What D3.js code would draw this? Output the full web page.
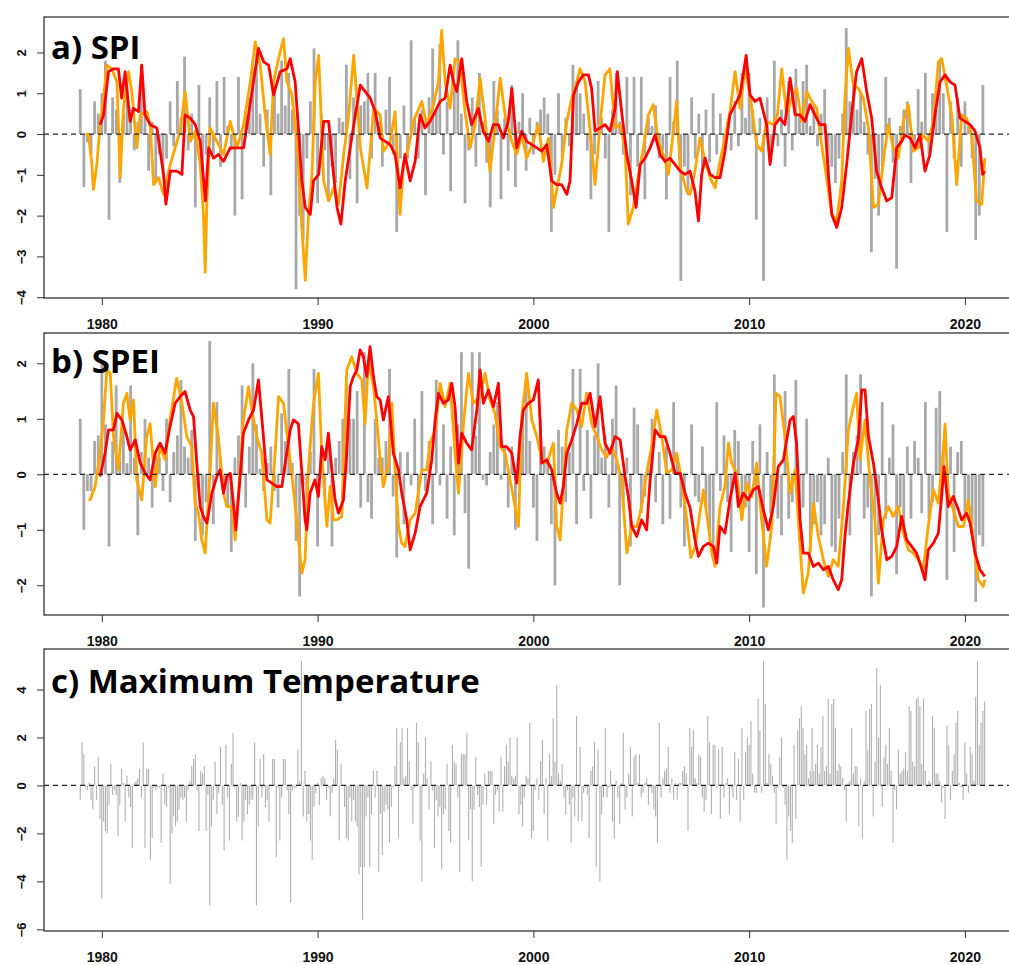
<!DOCTYPE html>
<html>
<head>
<meta charset="utf-8">
<script src="https://cdn.jsdelivr.net/npm/d3@7"></script>
<style>
  body { margin: 0; background: #fff; }
</style>
</head>
<body>
<div id="chart"></div>
<script>
const w = 1009;
const h = 965;
const startYear = 1979;

const titles = ['a) SPI', 'b) SPEI', 'c) Maximum Temperature'];
const yearTicks = [1980, 1990, 2000, 2010, 2020];
const spiTicks = [2, 1, 0, -1, -2, -3, -4];
const speiTicks = [2, 1, 0, -1, -2];
const tmaxTicks = [4, 2, 0, -2, -4, -6];

// SPI-1, one value every two months, one row per year (1979..2020)
const spi1 = [
  1.1, -1.3, -0.2, -0.5, 0.8, 0.5,
  1.0, 1.8, -2.1, 0.9, 0.6, -1.2,
  0.5, 1.2, 0.6, -0.4, 0.3, 1.7,
  0.6, -0.9, 0.3, -1.2, -0.5, -1.0,
  -0.6, 0.8, -0.3, 1.3, 0.4, 1.9,
  -0.4, 0.5, -1.8, 1.2, -1.2, -0.5,
  0.9, -0.5, 1.3, -0.8, 1.4, 0.2,
  -0.4, -2.0, 1.4, -1.6, 0.6, 0.9,
  1.6, 2.0, 0.5, -0.8, 0.6, -1.5,
  1.2, 0.5, 1.8, 0.7, 1.5, 0.6,
  -3.8, -2.0, -2.6, -0.6, 0.8, 2.1,
  -1.7, 0.5, -0.4, -1.6, -0.8, -1.2,
  0.4, 0.3, 1.7, -1.1, 0.9, -1.7,
  0.7, 0.8, 1.5, -0.6, 1.5, 0.3,
  -0.8, 0.6, 1.4, -0.5, -2.4, -0.6,
  0.7, -0.6, 2.3, 0.4, -0.6, 0.6,
  -1.5, 0.9, 2.1, 0.6, 2.2, -0.5,
  0.8, -1.4, 1.2, 2.3, 0.5, -1.7,
  -0.4, 0.9, -0.8, 1.5, 0.3, -0.7,
  -1.8, 1.3, 0.6, -1.6, 0.4, -0.9,
  1.2, -1.3, 0.3, 1.0, -0.9, 0.4,
  -0.5, 0.3, 0.6, 0.9, 0.5, -2.4,
  -1.0, 1.0, -0.6, 0.4, -0.3, 1.7,
  1.3, 1.0, 0.5, -0.4, -1.6, -0.5,
  1.3, 0.4, -0.6, -2.4, 0.6, 1.5,
  0.3, -0.5, 1.4, -1.5, 1.4, -0.8,
  1.4, -1.6, 0.4, 0.2, 0.7, -0.6,
  -0.4, -1.6, 1.4, 0.3, 1.8, -3.6,
  -0.8, -1.5, 0.9, -0.6, 0.5, -0.9,
  0.6, -0.7, 1.0, -0.5, 0.5, -0.4,
  0.3, -0.4, 0.8, -0.3, 1.5, 0.4,
  1.5, 0.6, -2.1, 0.4, -3.6, 0.9,
  -0.5, 1.8, -0.3, 0.6, -0.8, 1.3,
  -0.4, 1.6, 0.5, 1.3, 1.7, 0.2,
  0.7, -0.3, 0.5, 1.1, -1.3, -0.8,
  -1.2, -0.6, 0.5, 2.6, 0.8, 1.2,
  0.6, 1.0, 0.3, -0.5, -2.9, -1.1,
  -2.0, -0.8, 1.4, 0.4, -0.7, -3.3,
  0.2, 0.6, 0.8, -1.2, -0.4, 1.1,
  0.3, 1.5, -0.5, 1.0, 0.6, 1.8,
  1.0, -2.4, 0.8, -0.6, 0.9, -0.8,
  0.8, 0.2, -0.6, -2.6, -2.0, 1.2
];

// SPEI-1, one value every two months
const spei1 = [
  1.0, -1.0, -0.3, -0.3, 0.6, 0.7,
  2.0, 0.9, -1.3, 0.6, 1.6, 0.3,
  0.9, 0.2, 1.6, 0.3, -1.1, 0.4,
  1.0, 0.3, -0.6, 0.4, 0.3, -0.3,
  1.0, -0.5, 0.4, 0.7, 1.7, 0.5,
  0.3, 0.8, -1.2, -0.3, -1.1, -0.5,
  2.4, -0.9, 1.3, 0.3, -0.2, -0.6,
  -1.4, 0.3, 0.7, 1.6, -0.6, 0.5,
  2.0, 0.9, 0.1, -0.3, 0.2, 0.5,
  -0.3, -0.6, 1.1, 0.6, 1.9, 0.2,
  -1.2, -2.2, -0.2, -0.6, 0.4, 1.9,
  -1.3, 0.4, -0.4, 0.5, -1.3, 0.3,
  0.6, 1.0, 1.6, 1.0, 1.0, 1.5,
  -0.6, 2.2, -0.5, -0.8, 1.0, 0.3,
  0.3, 0.6, 1.9, -0.4, -1.5, 0.4,
  -0.9, 0.4, -0.2, 1.0, -0.6, 1.5,
  -0.3, 0.6, -0.9, 1.7, -0.2, 0.9,
  -0.8, 0.5, -1.1, 0.9, 2.2, -0.7,
  -1.7, 2.2, 0.7, 2.2, -0.1, -0.2,
  0.4, 0.9, 1.3, -0.1, 0.5, -0.6,
  0.5, -1.0, 0.3, 1.0, 1.7, 0.6,
  -0.6, -1.2, 1.0, 0.5, 0.3, -0.9,
  -2.0, 0.8, 0.5, -0.5, 0.4, 1.9,
  -0.9, 1.9, -0.3, 0.8, -0.8, 0.7,
  2.0, 0.3, 0.7, -0.6, 1.0, 1.6,
  -2.0, -0.6, 0.3, -1.3, 1.2, 0.9,
  -0.7, -0.4, 0.1, 1.0, -0.5, 0.4,
  -0.9, 0.5, -0.8, 1.3, 0.3, -0.6,
  -1.3, 0.0, 0.9, -0.4, -0.5, 0.5,
  -0.6, -1.1, -1.4, 1.3, -0.3, 0.7,
  -0.5, -1.4, 0.8, 0.6, -0.8, -0.6,
  -1.4, 0.6, -1.8, 0.9, -2.4, 0.4,
  -0.7, 1.8, -0.8, -1.1, 1.5, -0.8,
  -0.5, 1.7, -1.2, -0.6, 1.0, -1.4,
  -0.9, -0.5, -1.1, -0.9, 0.3, -1.3,
  -1.4, -0.8, 0.4, 1.8, -1.1, 0.4,
  0.7, 1.8, -0.8, -0.6, -2.2, -0.8,
  -1.1, 1.3, -0.8, 0.3, 0.9, -1.8,
  -0.6, -0.9, 0.5, -0.8, 0.6, 0.3,
  -0.7, 1.3, -0.8, -0.5, 1.2, 1.5,
  0.5, -1.9, 0.5, -1.4, 0.4, 0.6,
  -0.8, -0.6, -0.9, -2.3, -1.1, -1.3
];

// maximum temperature anomaly, monthly, one row per year
const tmax = [
  -0.6, 1.8, 1.3, -0.1, -0.2, 0.1, -0.6, -1.0, 0.8, -0.6, 1.2, -1.4,
  -4.7, -1.5, -1.9, -2.0, -0.8, 0.9, -0.4, -0.2, -0.4, -2.1, -0.8, 0.7,
  0.1, -1.5, 0.4, -0.5, -0.9, -2.6, 0.1, 0.2, 0.3, 0.7, -0.5, 1.8,
  -2.6, 0.7, 0.7, -3.1, -2.2, -0.1, -0.2, -0.1, -0.1, -2.4, 0.5, -0.8,
  -0.9, -0.1, -4.1, -2.0, -1.3, -1.7, -1.5, -1.0, -0.5, -0.6, -0.5, -1.5,
  -0.2, 0.2, 0.8, 1.1, 1.3, -0.2, -1.9, 0.6, 0.5, 0.8, -1.9, -0.4,
  -5.0, -1.7, -0.6, 1.0, -1.2, -0.3, 1.6, -0.8, -2.7, 1.7, -0.5, -2.3,
  0.9, 2.2, -0.1, -1.5, -1.3, 0.1, -2.3, -1.5, -0.6, -1.2, -0.8, -0.6,
  -0.6, 1.8, -5.0, -1.7, 1.1, -0.5, 1.3, -0.9, -0.6, -1.5, 0.0, 1.1,
  1.1, -3.0, -0.1, -2.3, -0.5, 1.1, 1.1, -0.2, -1.2, -4.9, -0.2, -0.1,
  -0.1, 1.5, 0.2, 5.2, -1.3, 0.6, -1.5, -1.2, -2.3, -3.1, -0.9, -0.3,
  0.1, -0.8, 0.3, 0.4, 0.3, -0.6, -0.1, -1.3, -0.3, 0.3, 1.9, 1.5,
  -2.3, 0.9, 0.0, -0.9, -2.2, -2.3, -0.5, -1.5, -0.6, -1.5, -1.7, -3.7,
  -3.4, -5.6, -3.4, -1.3, -0.5, -3.4, -1.2, 0.6, -0.5, 0.6, -3.6, -1.2,
  -2.9, -1.1, -0.8, -1.0, -2.4, -0.9, -0.1, 0.8, 2.4, -2.2, 1.8, 2.4,
  0.3, 0.4, 2.4, 1.0, -0.2, -1.6, -0.1, 2.6, 1.8, -2.3, -4.0, 0.5,
  2.0, 0.3, -1.0, 1.0, -0.2, -2.6, -0.6, -1.3, -0.9, -3.5, -1.2, -1.0,
  0.9, -1.9, -2.4, 1.7, 1.0, 0.9, -0.5, -3.6, 1.3, 1.3, 1.3, 2.2,
  -2.3, -1.0, -4.0, -1.0, 1.2, -0.4, -0.9, -3.4, -0.8, 0.5, -0.8, 0.6,
  0.6, 0.6, -1.6, -0.4, -0.2, -1.1, 1.2, -1.1, 0.8, 1.7, 1.0, 2.0,
  0.4, 0.3, 0.4, 2.0, -1.2, -0.8, -1.7, -0.5, 0.4, 0.3, 2.6, -2.2,
  -1.9, -0.2, 0.3, -0.6, 1.0, 1.9, -1.2, 0.3, -2.3, 1.3, 0.4, 2.8,
  1.0, 4.2, 0.5, 0.2, 0.9, -0.5, -1.2, -0.2, -0.8, -2.4, -0.5, -1.3,
  2.9, -1.5, 1.6, -1.5, -0.3, -0.1, -0.4, -2.2, 0.6, 0.8, 1.8, -3.4,
  1.5, -4.0, -1.2, -0.5, 2.4, -0.5, -0.1, 0.6, -1.5, -2.2, 0.2, -0.5,
  -1.6, 0.1, 2.2, -1.0, -0.5, 0.5, 1.6, -1.3, 1.2, 1.3, 0.1, 1.3,
  -0.5, -0.3, 0.1, 0.3, -0.8, -0.1, -0.3, -1.0, -1.3, -2.4, 2.6, -0.5,
  0.3, 0.6, 0.7, 1.6, -0.3, 0.3, -0.6, 0.1, -0.6, 0.1, 0.1, 0.6,
  0.8, 0.5, -1.9, 2.4, 1.6, 2.3, 0.3, 0.1, 1.3, 1.2, -0.5, -1.1,
  -0.6, 2.9, 1.8, -1.2, 1.7, 1.7, -0.1, 1.5, -1.4, 1.6, -0.5, 0.1,
  0.3, -1.2, -0.1, -0.5, 1.4, -0.6, 1.1, -1.5, 2.4, -0.6, 1.4, 2.0,
  1.7, 2.7, 0.5, -0.3, -0.3, 3.6, 2.3, -0.3, 5.2, 3.4, 0.1, 1.3,
  0.9, 0.4, -0.3, -1.6, -0.1, 1.2, 2.0, -0.1, -0.8, -3.1, -1.3, -1.9,
  -2.4, 1.7, -1.4, 2.3, 2.8, 3.3, 2.4, 1.3, 1.7, 0.3, 0.6, 2.4,
  0.6, 0.9, 1.7, 0.5, 1.6, 2.9, 0.6, 0.8, 3.6, 0.5, 3.4, 3.6,
  2.4, 0.6, 0.9, 0.8, 0.3, -0.2, -1.5, 0.1, 0.2, 2.4, 0.5, 0.8,
  0.8, -1.7, 0.3, -2.2, 0.2, 3.1, 1.5, 3.2, 3.4, -1.3, 1.0, 4.9,
  2.0, 4.2, -0.9, 1.2, 1.7, 0.9, 2.4, 0.6, -2.4, -0.2, -1.0, 1.5,
  0.5, 0.6, 0.7, 1.4, 0.6, 3.3, 3.1, 1.0, 0.8, 3.6, 3.7, 3.3,
  0.9, 3.6, 0.6, -0.1, 0.2, 0.1, 2.9, 2.4, 0.5, 0.5, 0.2, -0.7,
  -0.1, -1.4, 2.5, 1.7, -0.6, 0.6, 1.3, 2.6, 3.1, 0.1, -0.1, -0.6,
  1.8, 0.5, -0.3, 1.6, 1.3, 0.2, 3.7, 5.2, 1.7, 2.6, 3.1, 3.5
];

// smoothed indices as [year, value]
const spi3 = [
  [1979.25,0.0],[1979.38,0.0],[1979.54,-0.75],[1979.61,-1.36],[1979.77,-0.75],[1979.92,0.23],
  [1980.08,0.88],[1980.23,1.69],[1980.46,1.6],[1980.7,1.28],[1980.85,-1.07],[1981.0,0.63],
  [1981.24,1.53],[1981.39,1.04],[1981.62,-0.34],[1981.78,0.47],[1982.09,0.55],[1982.24,0.23],
  [1982.4,-1.24],[1982.63,-1.07],[1982.86,-1.48],[1983.17,-0.75],[1983.63,0.07],[1983.86,1.04],
  [1984.1,-0.18],[1984.33,0.07],[1984.56,-0.75],[1984.71,-1.97],[1984.79,-3.39],[1984.87,-1.64],
  [1985.02,0.15],[1985.33,-0.18],[1985.64,-0.5],[1985.95,0.31],[1986.26,-0.34],[1986.57,0.23],
  [1986.88,1.28],[1987.11,2.26],[1987.34,1.69],[1987.57,0.47],[1987.8,-0.5],[1987.96,1.28],
  [1988.19,1.85],[1988.42,2.34],[1988.58,1.28],[1988.81,0.96],[1989.04,-0.18],[1989.27,-2.29],
  [1989.43,-3.59],[1989.58,-1.97],[1989.74,-0.99],[1989.89,1.28],[1990.05,1.93],[1990.28,-1.15],
  [1990.51,-1.64],[1990.74,-1.32],[1990.97,-1.72],[1991.21,-0.5],[1991.44,0.47],[1991.67,1.93],
  [1991.82,0.88],[1991.98,-0.34],[1992.29,-1.32],[1992.6,0.63],[1992.9,0.47],[1993.05,-0.42],
  [1993.36,-0.18],[1993.59,0.55],[1993.75,-1.24],[1993.82,-1.97],[1993.98,-0.75],[1994.21,-0.34],
  [1994.44,0.31],[1994.83,0.8],[1995.06,0.23],[1995.37,0.72],[1995.6,1.28],[1995.75,2.54],
  [1995.91,1.28],[1996.14,0.63],[1996.37,1.85],[1996.6,1.77],[1996.83,0.55],[1997.07,-0.34],
  [1997.3,0.23],[1997.53,1.37],[1997.76,0.39],[1997.99,-0.91],[1998.22,0.15],[1998.46,1.37],
  [1998.69,0.47],[1999.0,-0.18],[1999.23,-0.5],[1999.46,-0.02],[1999.69,-0.59],[2000.0,-0.18],
  [2000.23,0.23],[2000.46,-0.67],[2000.7,-0.1],[2000.93,-1.8],[2001.16,-1.15],[2001.31,-0.75],
  [2001.55,0.31],[2001.78,0.88],[2002.01,1.28],[2002.16,1.6],[2002.4,1.28],[2002.63,0.07],
  [2002.86,-1.24],[2003.09,0.23],[2003.32,1.45],[2003.55,1.6],[2003.79,0.15],[2004.02,0.23],
  [2004.25,-0.34],[2004.4,-2.21],[2004.63,-1.8],[2004.87,-0.99],[2005.1,-0.34],[2005.33,0.47],
  [2005.56,0.72],[2005.79,-0.18],[2006.02,-0.5],[2006.26,-0.99],[2006.49,0.07],[2006.64,0.8],
  [2006.8,-0.83],[2007.11,-1.4],[2007.26,-1.48],[2007.49,-0.91],[2007.72,-0.1],[2007.96,-0.67],
  [2008.19,-1.07],[2008.42,-1.32],[2008.65,-0.67],[2008.88,-0.1],[2009.11,0.55],[2009.35,1.53],
  [2009.58,0.63],[2009.81,1.6],[2010.04,0.96],[2010.35,-0.26],[2010.58,-0.42],[2010.81,0.31],
  [2011.12,0.23],[2011.31,0.47],[2011.51,1.6],[2011.74,0.47],[2011.97,0.88],[2012.2,1.12],
  [2012.44,0.31],[2012.67,1.04],[2012.9,0.8],[2013.13,0.63],[2013.36,-0.26],[2013.59,-1.07],
  [2013.83,-1.97],[2014.06,-2.13],[2014.29,-1.15],[2014.44,0.88],[2014.6,2.1],[2014.83,1.2],
  [2015.06,1.12],[2015.29,0.88],[2015.53,0.15],[2015.76,-1.8],[2015.99,-1.72],[2016.22,-0.67],
  [2016.45,0.23],[2016.68,-0.34],[2016.91,-0.59],[2017.15,0.31],[2017.38,0.72],[2017.61,-0.42],
  [2017.84,-0.34],[2018.07,-0.02],[2018.3,-0.18],[2018.54,0.31],[2018.77,1.77],[2018.92,1.85],
  [2019.15,1.2],[2019.39,0.47],[2019.62,-1.24],[2019.85,0.47],[2020.08,0.39],[2020.31,-0.02],
  [2020.54,-1.64],[2020.78,-1.72],[2020.92,-0.59]
];

const spi12 = [
  [1979.92,0.23],[1980.08,0.47],[1980.31,1.53],[1980.54,1.6],[1980.77,1.6],[1980.92,0.88],
  [1981.08,1.53],[1981.31,0.31],[1981.47,0.63],[1981.7,0.55],[1981.85,1.69],[1982.0,0.47],
  [1982.24,0.23],[1982.55,0.15],[1982.86,-0.99],[1982.97,-1.72],[1983.17,-0.91],[1983.48,-0.91],
  [1983.71,-0.99],[1983.86,0.47],[1984.1,0.39],[1984.33,0.23],[1984.56,-0.18],[1984.8,-1.64],
  [1984.95,-0.34],[1985.18,-0.59],[1985.41,-0.5],[1985.64,-0.67],[1985.95,-0.34],[1986.26,-0.34],
  [1986.57,-0.34],[1986.8,0.47],[1987.03,1.28],[1987.26,2.1],[1987.5,1.77],[1987.73,1.69],
  [1987.96,0.96],[1988.27,1.53],[1988.58,1.6],[1988.73,1.85],[1988.96,1.28],[1989.12,0.07],
  [1989.27,-1.15],[1989.43,-1.8],[1989.66,-1.97],[1989.81,-1.15],[1990.05,-0.99],[1990.28,0.31],
  [1990.51,0.31],[1990.74,-0.99],[1990.9,-1.8],[1991.08,-2.21],[1991.28,-1.15],[1991.51,-0.34],
  [1991.75,0.47],[1991.98,1.2],[1992.21,1.04],[1992.44,0.88],[1992.67,0.55],[1992.9,-0.1],
  [1993.13,-0.18],[1993.36,-0.26],[1993.59,-0.5],[1993.82,-1.32],[1994.05,-0.5],[1994.29,-1.15],
  [1994.52,-0.67],[1994.75,0.47],[1994.98,0.15],[1995.21,0.31],[1995.45,0.55],[1995.68,0.8],
  [1995.91,0.88],[1996.14,1.69],[1996.3,1.28],[1996.45,1.04],[1996.68,1.85],[1996.91,0.8],
  [1997.14,0.23],[1997.45,0.63],[1997.68,0.07],[1997.92,-0.18],[1998.15,0.23],[1998.38,0.23],
  [1998.61,-0.1],[1998.84,0.31],[1999.0,1.12],[1999.23,-0.34],[1999.46,0.07],[1999.69,-0.18],
  [1999.93,-0.26],[2000.16,-0.34],[2000.39,-0.42],[2000.62,-0.26],[2000.85,-1.15],[2001.08,-1.24],
  [2001.31,-1.24],[2001.55,-1.48],[2001.7,-1.15],[2001.86,0.96],[2002.09,1.28],[2002.32,1.45],
  [2002.55,1.45],[2002.7,1.12],[2002.86,0.07],[2003.09,0.15],[2003.32,0.23],[2003.55,0.07],
  [2003.79,0.63],[2003.89,1.53],[2004.09,0.55],[2004.33,-0.5],[2004.56,-1.15],[2004.76,-1.8],
  [2004.95,-0.75],[2005.18,-0.59],[2005.41,-0.34],[2005.64,-0.02],[2005.87,-0.5],[2006.1,-0.67],
  [2006.33,-0.59],[2006.57,-0.75],[2006.8,-0.91],[2007.03,-0.99],[2007.26,-0.91],[2007.49,-1.4],
  [2007.65,-2.13],[2007.8,-0.99],[2007.96,-0.59],[2008.19,-0.99],[2008.42,-1.07],[2008.65,-1.07],
  [2008.88,-0.42],[2009.11,0.47],[2009.35,0.72],[2009.58,0.96],[2009.86,1.93],[2010.04,0.96],
  [2010.27,0.8],[2010.5,0.88],[2010.81,0.23],[2010.97,-0.75],[2011.2,0.23],[2011.43,0.39],
  [2011.66,0.23],[2011.9,1.37],[2012.13,0.47],[2012.36,0.47],[2012.59,0.31],[2012.82,0.72],
  [2013.05,0.47],[2013.28,0.23],[2013.52,0.23],[2013.67,-0.99],[2013.83,-1.97],[2014.06,-2.29],
  [2014.29,-1.8],[2014.52,-0.75],[2014.75,0.47],[2014.98,1.53],[2015.22,1.85],[2015.45,1.04],
  [2015.68,0.39],[2015.91,-0.91],[2016.14,-1.32],[2016.38,-1.64],[2016.61,-1.56],[2016.84,-0.34],
  [2017.07,-0.18],[2017.22,-0.02],[2017.46,-0.1],[2017.69,-0.34],[2017.92,-0.02],[2018.15,-0.91],
  [2018.38,-0.5],[2018.61,0.47],[2018.85,1.28],[2019.08,1.45],[2019.31,1.28],[2019.54,1.2],
  [2019.77,0.39],[2020.0,0.31],[2020.24,0.23],[2020.47,0.07],[2020.7,-0.34],[2020.82,-0.99],
  [2020.92,-0.91]
];

const spei3 = [
  [1979.38,-0.46],[1979.46,-0.46],[1979.69,-0.22],[1979.92,0.38],[1980.08,0.98],[1980.23,1.88],
  [1980.39,1.82],[1980.54,0.68],[1980.77,0.08],[1981.0,1.28],[1981.16,1.46],[1981.31,0.98],
  [1981.47,1.34],[1981.62,-0.1],[1981.85,-0.46],[1982.08,0.68],[1982.24,0.91],[1982.47,-0.22],
  [1982.7,0.5],[1982.93,0.26],[1983.16,0.98],[1983.47,1.73],[1983.71,1.28],[1983.94,0.68],
  [1984.17,0.5],[1984.32,-0.52],[1984.48,-0.7],[1984.63,-1.18],[1984.79,-1.42],[1985.02,0.08],
  [1985.17,1.28],[1985.4,0.68],[1985.64,-0.34],[1985.79,-0.58],[1986.02,-0.58],[1986.18,-1.18],
  [1986.41,0.08],[1986.56,0.98],[1986.8,1.58],[1986.95,1.16],[1987.18,0.68],[1987.41,0.38],
  [1987.65,-0.82],[1987.8,-0.88],[1988.03,0.38],[1988.19,1.4],[1988.42,1.28],[1988.65,0.5],
  [1988.8,0.02],[1989.03,-0.82],[1989.27,-1.78],[1989.42,-1.54],[1989.57,0.08],[1989.81,1.28],
  [1990.04,1.82],[1990.19,0.38],[1990.43,-0.94],[1990.58,-0.22],[1990.74,-0.82],[1990.89,-0.82],
  [1991.12,-0.76],[1991.35,1.88],[1991.58,2.12],[1991.82,1.82],[1992.05,1.7],[1992.2,0.91],
  [1992.36,2.06],[1992.59,1.58],[1992.74,0.98],[1992.9,0.26],[1993.05,-0.22],[1993.28,0.2],
  [1993.44,1.28],[1993.59,0.08],[1993.75,-0.94],[1993.9,-1.24],[1994.05,-1.3],[1994.29,-0.82],
  [1994.52,-0.7],[1994.83,0.08],[1995.06,0.08],[1995.21,0.56],[1995.45,0.8],[1995.68,1.64],
  [1995.91,1.22],[1996.14,1.64],[1996.37,0.38],[1996.53,-0.34],[1996.76,0.91],[1996.99,1.82],
  [1997.22,1.28],[1997.53,1.4],[1997.76,1.82],[1997.99,1.34],[1998.22,1.1],[1998.46,0.5],
  [1998.69,0.38],[1998.92,-0.1],[1999.15,-0.58],[1999.31,-0.94],[1999.46,1.04],[1999.69,1.82],
  [1999.93,0.98],[2000.16,0.68],[2000.39,0.26],[2000.62,0.2],[2000.93,0.56],[2001.08,-0.94],
  [2001.24,-1.18],[2001.39,-0.22],[2001.55,0.8],[2001.78,1.28],[2002.01,1.16],[2002.24,0.86],
  [2002.47,1.46],[2002.7,0.91],[2002.94,0.68],[2003.17,0.44],[2003.4,0.31],[2003.63,0.5],
  [2003.86,0.26],[2004.09,-0.1],[2004.33,-1.42],[2004.56,-0.94],[2004.79,-0.94],[2005.02,-0.58],
  [2005.25,0.02],[2005.48,0.5],[2005.72,1.16],[2005.95,0.68],[2006.18,0.02],[2006.41,0.08],
  [2006.64,0.38],[2006.87,-0.1],[2007.11,-0.82],[2007.3,-1.5],[2007.5,-1.3],[2007.65,-0.88],
  [2007.88,-0.28],[2008.11,-0.94],[2008.27,-1.42],[2008.42,-1.66],[2008.65,-0.58],[2008.88,-0.22],
  [2009.04,0.56],[2009.19,0.2],[2009.42,0.02],[2009.66,-0.82],[2009.89,-0.16],[2010.12,-0.4],
  [2010.35,0.2],[2010.58,-0.82],[2010.81,-1.66],[2011.05,-0.94],[2011.25,1.46],[2011.43,1.4],
  [2011.66,0.68],[2011.9,-0.34],[2012.13,0.08],[2012.28,-0.82],[2012.51,-2.14],[2012.74,-1.78],
  [2012.98,-0.52],[2013.21,-1.12],[2013.44,-1.54],[2013.67,-1.84],[2013.9,-1.54],[2014.13,-1.66],
  [2014.37,-0.58],[2014.6,0.8],[2014.83,1.22],[2014.98,1.46],[2015.14,0.26],[2015.37,0.98],
  [2015.6,-0.1],[2015.83,-0.82],[2015.99,-1.96],[2016.22,-0.82],[2016.45,-0.58],[2016.68,-0.76],
  [2016.91,-0.58],[2017.15,-1.06],[2017.38,-1.36],[2017.61,-1.42],[2017.84,-1.54],[2018.07,-1.72],
  [2018.3,-0.94],[2018.54,-0.28],[2018.77,-0.52],[2019.0,0.44],[2019.08,0.91],[2019.23,-0.34],
  [2019.46,-0.64],[2019.7,-0.94],[2019.93,-0.94],[2020.16,-0.46],[2020.39,-1.18],[2020.62,-1.9],
  [2020.85,-2.02],[2020.92,-1.9]
];

const spei12 = [
  [1979.92,-0.04],[1980.15,0.38],[1980.31,0.8],[1980.54,0.8],[1980.7,1.1],[1980.93,0.98],
  [1981.16,0.68],[1981.31,0.44],[1981.55,0.62],[1981.78,0.2],[1982.01,0.02],[1982.24,-0.1],
  [1982.47,0.38],[1982.7,0.56],[1982.93,0.38],[1983.16,0.86],[1983.4,1.28],[1983.63,1.4],
  [1983.86,1.49],[1984.09,1.16],[1984.25,1.04],[1984.4,0.2],[1984.56,-0.58],[1984.71,-0.76],
  [1984.87,-0.88],[1985.1,-0.34],[1985.33,-0.04],[1985.48,0.08],[1985.64,-0.34],[1985.79,-0.04],
  [1985.95,0.02],[1986.1,-0.52],[1986.21,-1.0],[1986.41,-0.04],[1986.56,0.74],[1986.8,0.98],
  [1987.03,1.16],[1987.26,1.7],[1987.49,0.68],[1987.65,-0.1],[1987.88,-0.16],[1988.11,-0.22],
  [1988.34,-0.22],[1988.57,0.38],[1988.73,0.8],[1988.88,0.98],[1989.11,0.91],[1989.27,0.02],
  [1989.42,-0.82],[1989.5,-1.0],[1989.65,-0.34],[1989.88,-0.1],[1990.04,-0.4],[1990.19,0.5],
  [1990.35,0.26],[1990.5,0.74],[1990.66,0.08],[1990.81,-0.46],[1990.97,-0.7],[1991.2,-0.46],
  [1991.35,0.38],[1991.51,1.58],[1991.66,1.76],[1991.82,1.88],[1991.97,2.24],[1992.12,2.12],
  [1992.28,1.76],[1992.43,2.3],[1992.59,1.76],[1992.74,1.4],[1992.9,1.34],[1993.05,0.98],
  [1993.28,1.4],[1993.51,0.38],[1993.75,0.08],[1993.9,-0.34],[1994.13,-0.82],[1994.29,-1.36],
  [1994.52,-1.06],[1994.75,-0.58],[1995.06,-0.34],[1995.29,0.26],[1995.45,0.98],[1995.6,1.46],
  [1995.83,1.28],[1996.06,1.34],[1996.22,1.64],[1996.37,1.22],[1996.53,0.2],[1996.68,0.74],
  [1996.91,0.56],[1997.14,0.44],[1997.38,1.16],[1997.53,1.88],[1997.68,1.28],[1997.92,1.52],
  [1998.15,1.22],[1998.38,1.64],[1998.53,0.5],[1998.76,0.5],[1999.0,0.38],[1999.23,-0.16],
  [1999.38,0.68],[1999.54,1.16],[1999.77,1.28],[2000.0,1.34],[2000.23,1.7],[2000.39,0.2],
  [2000.62,0.26],[2000.85,0.08],[2001.08,-0.34],[2001.24,-0.52],[2001.39,-0.22],[2001.55,0.38],
  [2001.78,0.62],[2002.01,0.91],[2002.24,1.28],[2002.47,1.28],[2002.63,1.46],[2002.86,0.86],
  [2003.09,1.4],[2003.32,0.56],[2003.55,0.38],[2003.79,0.68],[2004.02,0.62],[2004.25,-0.04],
  [2004.4,-0.4],[2004.56,-0.94],[2004.79,-1.12],[2005.02,-0.82],[2005.25,-1.0],[2005.41,-0.1],
  [2005.64,0.8],[2005.87,0.68],[2006.1,0.68],[2006.33,0.38],[2006.57,0.02],[2006.8,0.02],
  [2007.03,-0.34],[2007.26,-0.6],[2007.49,-1.18],[2007.65,-1.48],[2007.88,-1.3],[2008.11,-1.24],
  [2008.34,-1.3],[2008.5,-1.6],[2008.65,-0.94],[2008.88,-1.06],[2009.11,-0.46],[2009.35,0.02],
  [2009.5,-0.58],[2009.73,-0.34],[2009.96,-0.46],[2010.2,-0.28],[2010.43,-0.22],[2010.66,-0.64],
  [2010.89,-1.0],[2011.12,-0.58],[2011.35,0.14],[2011.59,0.26],[2011.74,0.62],[2011.9,0.98],
  [2012.05,1.04],[2012.2,0.56],[2012.36,-0.82],[2012.51,-1.42],[2012.74,-1.42],[2012.98,-1.66],
  [2013.21,-1.6],[2013.44,-1.72],[2013.67,-1.66],[2013.9,-1.9],[2014.13,-2.08],[2014.29,-1.9],
  [2014.44,-1.12],[2014.6,-0.52],[2014.83,0.2],[2015.06,0.62],[2015.22,1.52],[2015.37,1.52],
  [2015.53,0.68],[2015.76,0.2],[2015.99,-0.46],[2016.14,-1.0],[2016.38,-1.54],[2016.61,-1.48],
  [2016.84,-1.3],[2017.07,-0.76],[2017.3,-1.18],[2017.53,-1.3],[2017.76,-1.42],[2017.92,-1.6],
  [2018.15,-1.9],[2018.3,-1.36],[2018.54,-1.24],[2018.77,-1.06],[2018.92,-0.4],[2019.03,0.14],
  [2019.23,-0.58],[2019.46,-0.4],[2019.7,-0.64],[2019.85,-0.82],[2020.08,-0.7],[2020.24,-0.88],
  [2020.47,-1.42],[2020.7,-1.72],[2020.92,-1.84]
];

const svg = d3.select('#chart')
    .append('svg')
    .attr('width', w)
    .attr('height', h)
    .style('background-color', '#fff');

const x = d3.scaleLinear().domain([1977.32, 2022.6]).range([44, 1021]);

const panels = [
    {title: titles[0], top: 17, bottom: 298, domain: [-4.02, 2.87], ticks: spiTicks,
     bars: spi1, perYear: 6, barWidth: 2.8, barColor: '#a8a8a8', lines: [spi3, spi12], titleY: 59},
    {title: titles[1], top: 333, bottom: 615, domain: [-2.535, 2.546], ticks: speiTicks,
     bars: spei1, perYear: 6, barWidth: 2.8, barColor: '#a8a8a8', lines: [spei3, spei12], titleY: 373},
    {title: titles[2], top: 649, bottom: 931, domain: [-6.07, 5.69], ticks: tmaxTicks,
     bars: tmax, perYear: 12, barWidth: 1.1, barColor: '#b0b0b0', lines: [], titleY: 693}
];
const lineColors = ['#ffa500', '#ff0000'];

panels.forEach(p => {
    const y = d3.scaleLinear().domain(p.domain).range([p.bottom, p.top]);
    const g = svg.append('g');

    // vertical bars from zero
    g.selectAll('line.bar')
        .data(p.bars)
        .enter()
        .append('line')
        .attr('class', 'bar')
        .attr('x1', (d, i) => x(startYear + i / p.perYear))
        .attr('x2', (d, i) => x(startYear + i / p.perYear))
        .attr('y1', y(0))
        .attr('y2', d => y(d))
        .attr('stroke', p.barColor)
        .attr('stroke-width', p.barWidth);

    const line = d3.line().x(d => x(d[0])).y(d => y(d[1]));
    p.lines.forEach((ln, k) => {
        g.append('path')
            .datum(ln)
            .attr('d', line)
            .attr('fill', 'none')
            .attr('stroke', lineColors[k])
            .attr('stroke-width', 2.8)
            .attr('stroke-linejoin', 'round');
    });

    // zero line
    g.append('line')
        .attr('x1', x.range()[0])
        .attr('x2', x.range()[1])
        .attr('y1', y(0))
        .attr('y2', y(0))
        .attr('stroke', '#222')
        .attr('stroke-width', 1.3)
        .attr('stroke-dasharray', '5,4');

    // frame
    g.append('rect')
        .attr('x', 44)
        .attr('y', p.top)
        .attr('width', 1021 - 44)
        .attr('height', p.bottom - p.top)
        .attr('fill', 'none')
        .attr('stroke', '#333')
        .attr('stroke-width', 1.3);

    // axes
    const xAxis = d3.axisBottom(x).tickValues(yearTicks).tickSize(7).tickFormat(d3.format('d'));
    const gx = g.append('g')
        .attr('transform', 'translate(0,' + p.bottom + ')')
        .attr('color', '#333')
        .call(xAxis);
    gx.select('.domain').remove();
    gx.selectAll('text')
        .attr('y', 21)
        .style('font-family', '"Liberation Sans", Arial, sans-serif')
        .style('font-weight', 'bold')
        .style('font-size', '14px')
        .attr('fill', '#111');

    const yAxis = d3.axisLeft(y).tickValues(p.ticks).tickSize(7).tickFormat(d3.format('d'));
    const gy = g.append('g')
        .attr('transform', 'translate(44,0)')
        .attr('color', '#333')
        .call(yAxis);
    gy.select('.domain').remove();
    gy.selectAll('text')
        .attr('x', null)
        .attr('dy', null)
        .attr('text-anchor', 'middle')
        .attr('transform', 'translate(-18,0) rotate(-90)')
        .style('font-family', '"Liberation Sans", Arial, sans-serif')
        .style('font-weight', 'bold')
        .style('font-size', '13px')
        .attr('fill', '#111');

    // panel title
    svg.append('text')
        .attr('x', 51)
        .attr('y', p.titleY)
        .style('font-family', '"Open Sans", "Noto Sans", sans-serif')
        .style('font-weight', 'bold')
        .style('font-size', '33px')
        .attr('fill', '#000')
        .text(p.title);
});
</script>
</body>
</html>
